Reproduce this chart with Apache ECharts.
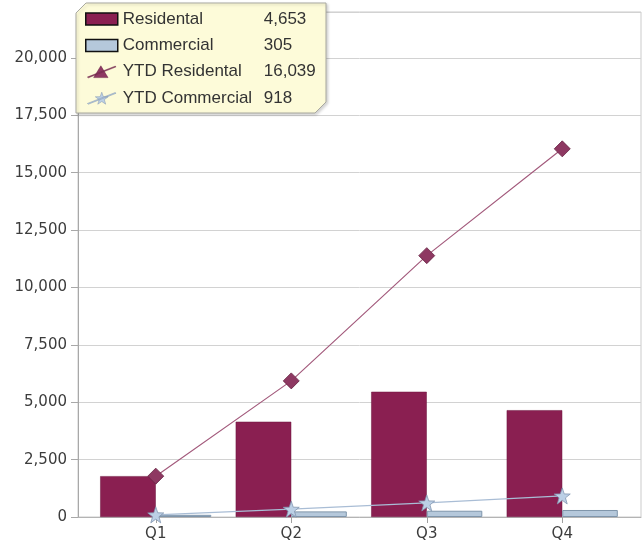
<!DOCTYPE html>
<html>
<head>
<meta charset="utf-8">
<script src="https://cdn.jsdelivr.net/npm/echarts@6/dist/echarts.min.js"></script>
<style>
  html, body { margin: 0; padding: 0; background: #ffffff; }
  #chart { width: 643px; height: 547px; }
</style>
</head>
<body>
<div id="chart"></div>
<script>
// Quarterly figures
const quarters = ['Q1', 'Q2', 'Q3', 'Q4'];
const residental = [1780, 4150, 5456, 4653];
const commercial = [95, 245, 273, 305];
const ytdResidental = [1780, 5930, 11386, 16039];
const ytdCommercial = [95, 340, 613, 918];

// Value axis range
const yMin = 0;
const yMax = 22000;
const yStep = 2500;

const fmt = v => Number(v).toLocaleString('en-US');
const last = arr => arr[arr.length - 1];

const legendValues = {
  'Residental': last(residental),
  'Commercial': last(commercial),
  'YTD Residental': last(ytdResidental),
  'YTD Commercial': last(ytdCommercial)
};

// Symbols
const STAR = 'path://M0,-10L2.35,-3.24L9.51,-3.09L3.8,1.24L5.88,8.09L0,4L-5.88,8.09L-3.8,1.24L-9.51,-3.09L-2.35,-3.24Z';
const ICON_TRI_LINE = 'path://M0,12.6L31,0.4L32,1.2L1,13.4Z M7,13.2L15,0L23,13.2Z';
const ICON_STAR_LINE = 'path://M0,12.6L31,0.4L32,1.2L1,13.4Z M16,0L17.8,5L23.2,5.1L18.9,8.3L20.4,13.4L16,10.4L11.6,13.4L13.1,8.3L8.8,5.1L14.2,5Z';

const AXIS_FONT = 'DejaVu Sans';
const LEGEND_FONT = 'Liberation Sans';

const chart = echarts.init(document.getElementById('chart'), null, { renderer: 'canvas' });

const option = {
  animation: false,
  backgroundColor: '#ffffff',
  grid: [
    // frame + value axis
    { left: 78, right: 2, top: 12, bottom: 30, show: true, borderColor: '#cbcbcb', borderWidth: 1,
      backgroundColor: 'transparent', outerBoundsMode: 'none', containLabel: false },
    // inset band area holding the categories
    { left: 88, right: 13, top: 12, bottom: 30, outerBoundsMode: 'none', containLabel: false }
  ],
  xAxis: [
    {
      gridIndex: 0, type: 'category', data: quarters,
      axisLine: { show: true, lineStyle: { color: '#b4b4b4', width: 1 } },
      axisTick: { show: false }, axisLabel: { show: false }, splitLine: { show: false }
    },
    {
      gridIndex: 1, type: 'category', data: quarters,
      axisLine: { show: false },
      axisTick: { show: true, alignWithLabel: true, length: 6, lineStyle: { color: '#a0a0a0' } },
      axisLabel: { show: true, margin: 10, fontFamily: AXIS_FONT, fontSize: 15, color: '#3c3c3c' },
      splitLine: { show: false }
    }
  ],
  yAxis: [
    {
      gridIndex: 0, type: 'value', min: yMin, max: yMax, interval: yStep,
      axisLine: { show: true, lineStyle: { color: '#a8a8a8', width: 1 } },
      axisTick: { show: true, length: 7, lineStyle: { color: '#a8a8a8' } },
      axisLabel: { show: true, showMaxLabel: false, margin: 11, formatter: v => fmt(v),
        fontFamily: AXIS_FONT, fontSize: 15, color: '#3c3c3c' },
      splitLine: { show: true, lineStyle: { color: '#d2d2d2', width: 1 } }
    },
    {
      gridIndex: 1, type: 'value', min: yMin, max: yMax, interval: yStep,
      axisLine: { show: false }, axisTick: { show: false }, axisLabel: { show: false },
      splitLine: { show: false }
    }
  ],
  legend: {
    orient: 'vertical', left: 85, top: 9, padding: 0,
    itemWidth: 32, itemHeight: 12, itemGap: 6.4,
    selectedMode: false,
    data: [
      { name: 'Residental', icon: 'rect', itemStyle: { borderColor: '#111111', borderWidth: 1.5 } },
      { name: 'Commercial', icon: 'rect', itemStyle: { borderColor: '#111111', borderWidth: 1.5 } },
      { name: 'YTD Residental', icon: ICON_TRI_LINE, itemStyle: { borderColor: '#6a2446', borderWidth: 0.5 } },
      { name: 'YTD Commercial', icon: ICON_STAR_LINE, itemStyle: { borderColor: '#7f93ad', borderWidth: 0.5 } }
    ],
    formatter: name => '{n|' + name + '}{v|' + fmt(legendValues[name]) + '}',
    textStyle: {
      fontFamily: LEGEND_FONT, fontSize: 17, color: '#333333', lineHeight: 20,
      rich: {
        n: { width: 141, fontFamily: LEGEND_FONT, fontSize: 17, color: '#333333', lineHeight: 20 },
        v: { fontFamily: LEGEND_FONT, fontSize: 17, color: '#333333', lineHeight: 20 }
      }
    }
  },
  graphic: [
    {
      type: 'polygon', z: 3, silent: true,
      shape: { points: [[76, 13], [86, 3], [326, 3], [326, 102], [315, 113], [76, 113]] },
      style: { fill: '#fdfbd9', stroke: '#a9a9a0', lineWidth: 1,
        shadowBlur: 3, shadowColor: 'rgba(0,0,0,0.18)', shadowOffsetX: 1.5, shadowOffsetY: 1.5 }
    }
  ],
  series: [
    {
      name: 'Residental', type: 'bar', xAxisIndex: 1, yAxisIndex: 1,
      data: residental, barWidth: '41%', barGap: '0%',
      itemStyle: { color: '#8a1f51', borderColor: '#6d173f', borderWidth: 0.5 }
    },
    {
      name: 'Commercial', type: 'bar', xAxisIndex: 1, yAxisIndex: 1,
      data: commercial, barWidth: '41%', barGap: '0%',
      itemStyle: { color: '#b5c8db', borderColor: '#7f95ab', borderWidth: 1 }
    },
    {
      name: 'YTD Residental', type: 'line', xAxisIndex: 1, yAxisIndex: 1,
      data: ytdResidental, symbol: 'diamond', symbolSize: 16, z: 4,
      lineStyle: { color: '#a35a7c', width: 1.2 },
      itemStyle: { color: '#8e3862', borderColor: '#652040', borderWidth: 0.8 }
    },
    {
      name: 'YTD Commercial', type: 'line', xAxisIndex: 1, yAxisIndex: 1,
      data: ytdCommercial, symbol: STAR, symbolSize: 16, z: 4,
      lineStyle: { color: '#a9bdd5', width: 1.2 },
      itemStyle: { color: '#bcd0e6', borderColor: '#8196b0', borderWidth: 0.8 }
    }
  ]
};

chart.setOption(option);
</script>
</body>
</html>
